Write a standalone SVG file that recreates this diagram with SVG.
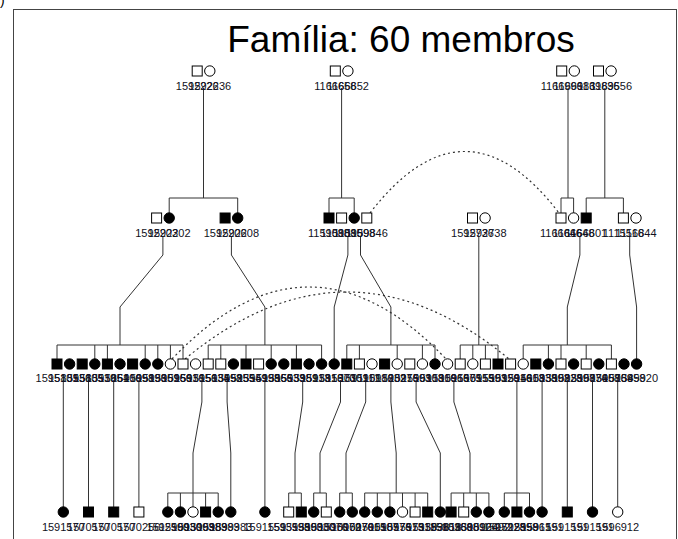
<svg xmlns="http://www.w3.org/2000/svg" width="678" height="539" viewBox="0 0 678 539">
<style>
.ln{fill:none;stroke:#333;stroke-width:1}
.dash{fill:none;stroke:#333;stroke-width:1.2;stroke-dasharray:2 3}
.a{fill:#000;stroke:#000;stroke-width:1}
.u{fill:#fff;stroke:#000;stroke-width:1}
.lb{font-family:"Liberation Sans",Arial,sans-serif;font-size:11px;fill:#111122;text-anchor:middle}
.t{font-family:"Liberation Sans",Arial,sans-serif;font-size:37px;fill:#000;text-anchor:middle}
</style>
<rect x="13.5" y="9.5" width="663" height="540" fill="none" stroke="#444" stroke-width="1"/>
<text x="0" y="5" style="font-family:'Liberation Sans',sans-serif;font-size:14px">)</text>
<text class="t" x="401" y="52">Família: 60 membros</text>
<g id="connectors">
<path class="ln" d="M203.5,88V198M169.2,198H237.7M169.2,198V213M237.7,198V213"/>
<path class="ln" d="M341.6,88V198M329,198H354.2M329,198V213M354.2,198V213"/>
<path class="ln" d="M568,88V198M561,198H573.6M561,198V213M573.6,198V213"/>
<path class="ln" d="M604.8,88V198M586.2,198H623.4M586.2,198V213M623.4,198V213"/>
<path class="ln" d="M162.9,236V255L120,307V345M57,345H183M57,345V359M94.8,345V359M107.4,345V359M145.2,345V359M157.8,345V359M170.4,345V359M183,345V359"/>
<path class="ln" d="M231.4,236V255L264.9,307V345M208.2,345H321.6M208.2,345V359M220.8,345V359M246,345V359M271.2,345V359M296.4,345V359M321.6,345V359"/>
<path class="ln" d="M347.9,236V255L334.2,307V359"/>
<path class="ln" d="M360.5,236V255L390.9,307V345M346.8,345H435M346.8,345V359M359.4,345V359M397.2,345V359M422.4,345V359M435,345V359"/>
<path class="ln" d="M478.8,236V345M460.2,345H498M460.2,345V359M472.8,345V359M485.4,345V359M498,345V359"/>
<path class="ln" d="M579.9,236V255L567.3,307V345M523.2,345H611.4M523.2,345V359M548.4,345V359M561,345V359M586.2,345V359M611.4,345V359"/>
<path class="ln" d="M629.7,236V255L636.6,307V359"/>
<path class="ln" d="M63.3,380V507M88.5,380V507M113.7,380V507M138.9,380V507"/>
<path class="ln" d="M201.9,380V402L193,453V493M167.8,493H218.2M167.8,493V507M180.4,493V507M193,493V507M205.6,493V507M218.2,493V507"/>
<path class="ln" d="M227.1,380V402L230.8,453V507M264.9,380V507"/>
<path class="ln" d="M302.7,380V402L295,453V493M288.7,493H301.3M288.7,493V507M301.3,493V507"/>
<path class="ln" d="M340.5,380V402L320,453V493M313.7,493H326.3M313.7,493V507M326.3,493V507"/>
<path class="ln" d="M365.7,380V402L346,453V493M339.7,493H352.3M339.7,493V507M352.3,493V507"/>
<path class="ln" d="M390.9,380V402L396.2,453V493M364.7,493H427.7M364.7,493V507M377.3,493V507M389.9,493V507M402.5,493V507M415.1,493V507M427.7,493V507"/>
<path class="ln" d="M416.1,380V402L440.3,453V507"/>
<path class="ln" d="M453.9,380V402L470,453V493M451.1,493H488.9M451.1,493V507M463.7,493V507M476.3,493V507M488.9,493V507"/>
<path class="ln" d="M516.9,380V493M504.3,493H529.5M504.3,493V507M516.9,493V507M529.5,493V507"/>
<path class="ln" d="M542.1,380V507M567.3,380V507M592.5,380V507M617.7,380V507"/>
<path class="dash" d="M370,213Q465,90 559,213"/>
<path class="dash" d="M172,359Q309,215 446,359"/>
<path class="dash" d="M185,359Q347,225 509,359"/>
</g>
<g id="g1a_m"><rect class="u" x="192.2" y="66" width="10" height="10"/><text class="lb" x="197.2" y="90">1592226</text></g>
<g id="g1a_f"><circle class="u" cx="209.8" cy="71" r="5.2"/><text class="lb" x="209.8" y="90">1592236</text></g>
<g id="g1b_m"><rect class="u" x="330.3" y="66" width="10" height="10"/><text class="lb" x="335.3" y="90">1166658</text></g>
<g id="g1b_f"><circle class="u" cx="347.9" cy="71" r="5.2"/><text class="lb" x="347.9" y="90">1166652</text></g>
<g id="g1c_m"><rect class="u" x="556.7" y="66" width="10" height="10"/><text class="lb" x="561.7" y="90">1166996</text></g>
<g id="g1c_f"><circle class="u" cx="574.3" cy="71" r="5.2"/><text class="lb" x="574.3" y="90">1166983</text></g>
<g id="g1d_m"><rect class="u" x="593.5" y="66" width="10" height="10"/><text class="lb" x="598.5" y="90">1169836</text></g>
<g id="g1d_f"><circle class="u" cx="611.1" cy="71" r="5.2"/><text class="lb" x="611.1" y="90">1169556</text></g>
<g id="g2_01"><rect class="u" x="151.6" y="213" width="10" height="10"/><text class="lb" x="156.6" y="237">1592203</text></g>
<g id="g2_02"><circle class="a" cx="169.2" cy="218" r="5.2"/><text class="lb" x="169.2" y="237">1592202</text></g>
<g id="g2_03"><rect class="a" x="220.1" y="213" width="10" height="10"/><text class="lb" x="225.1" y="237">1592206</text></g>
<g id="g2_04"><circle class="a" cx="237.7" cy="218" r="5.2"/><text class="lb" x="237.7" y="237">1592208</text></g>
<g id="g2_05"><rect class="a" x="324" y="213" width="10" height="10"/><text class="lb" x="329" y="237">1159088</text></g>
<g id="g2_06"><rect class="u" x="336.6" y="213" width="10" height="10"/><text class="lb" x="341.6" y="237">1159085</text></g>
<g id="g2_07"><circle class="a" cx="354.2" cy="218" r="5.2"/><text class="lb" x="354.2" y="237">1159098</text></g>
<g id="g2_08"><rect class="u" x="361.8" y="213" width="10" height="10"/><text class="lb" x="366.8" y="237">1159846</text></g>
<g id="g2_09"><rect class="u" x="467.5" y="213" width="10" height="10"/><text class="lb" x="472.5" y="237">1592736</text></g>
<g id="g2_10"><circle class="u" cx="485.1" cy="218" r="5.2"/><text class="lb" x="485.1" y="237">1592738</text></g>
<g id="g2_11"><rect class="u" x="556" y="213" width="10" height="10"/><text class="lb" x="561" y="237">1166646</text></g>
<g id="g2_12"><circle class="u" cx="573.6" cy="218" r="5.2"/><text class="lb" x="573.6" y="237">1166648</text></g>
<g id="g2_13"><rect class="a" x="581.2" y="213" width="10" height="10"/><text class="lb" x="586.2" y="237">1166601</text></g>
<g id="g2_14"><rect class="u" x="618.4" y="213" width="10" height="10"/><text class="lb" x="623.4" y="237">1115516</text></g>
<g id="g2_15"><circle class="u" cx="636" cy="218" r="5.2"/><text class="lb" x="636" y="237">1116844</text></g>
<g id="g3_00"><rect class="a" x="52" y="359" width="10" height="10"/><text class="lb" x="57" y="382">1595101</text></g>
<g id="g3_01"><circle class="a" cx="69.6" cy="364" r="5.2"/><text class="lb" x="69.6" y="382">1583536</text></g>
<g id="g3_02"><rect class="a" x="77.2" y="359" width="10" height="10"/><text class="lb" x="82.2" y="382">1595105</text></g>
<g id="g3_03"><circle class="a" cx="94.8" cy="364" r="5.2"/><text class="lb" x="94.8" y="382">1583539</text></g>
<g id="g3_04"><rect class="a" x="102.4" y="359" width="10" height="10"/><text class="lb" x="107.4" y="382">1591051</text></g>
<g id="g3_05"><circle class="a" cx="120" cy="364" r="5.2"/><text class="lb" x="120" y="382">1586406</text></g>
<g id="g3_06"><rect class="a" x="127.6" y="359" width="10" height="10"/><text class="lb" x="132.6" y="382">1591098</text></g>
<g id="g3_07"><circle class="a" cx="145.2" cy="364" r="5.2"/><text class="lb" x="145.2" y="382">1595196</text></g>
<g id="g3_08"><circle class="a" cx="157.8" cy="364" r="5.2"/><text class="lb" x="157.8" y="382">1593351</text></g>
<g id="g3_09"><circle class="u" cx="170.4" cy="364" r="5.2"/><text class="lb" x="170.4" y="382">1590966</text></g>
<g id="g3_10"><rect class="u" x="178" y="359" width="10" height="10"/><text class="lb" x="183" y="382">1595916</text></g>
<g id="g3_11"><circle class="u" cx="195.6" cy="364" r="5.2"/><text class="lb" x="195.6" y="382">1593156</text></g>
<g id="g3_12"><rect class="u" x="203.2" y="359" width="10" height="10"/><text class="lb" x="208.2" y="382">1595134</text></g>
<g id="g3_13"><rect class="u" x="215.8" y="359" width="10" height="10"/><text class="lb" x="220.8" y="382">1593598</text></g>
<g id="g3_14"><circle class="a" cx="233.4" cy="364" r="5.2"/><text class="lb" x="233.4" y="382">1595255</text></g>
<g id="g3_15"><rect class="a" x="241" y="359" width="10" height="10"/><text class="lb" x="246" y="382">1593549</text></g>
<g id="g3_16"><rect class="u" x="253.6" y="359" width="10" height="10"/><text class="lb" x="258.6" y="382">1595198</text></g>
<g id="g3_17"><circle class="a" cx="271.2" cy="364" r="5.2"/><text class="lb" x="271.2" y="382">1593566</text></g>
<g id="g3_18"><circle class="a" cx="283.8" cy="364" r="5.2"/><text class="lb" x="283.8" y="382">1595533</text></g>
<g id="g3_19"><rect class="a" x="291.4" y="359" width="10" height="10"/><text class="lb" x="296.4" y="382">1593981</text></g>
<g id="g3_20"><circle class="a" cx="309" cy="364" r="5.2"/><text class="lb" x="309" y="382">1595913</text></g>
<g id="g3_21"><circle class="a" cx="321.6" cy="364" r="5.2"/><text class="lb" x="321.6" y="382">1593816</text></g>
<g id="g3_22"><circle class="a" cx="334.2" cy="364" r="5.2"/><text class="lb" x="334.2" y="382">1591370</text></g>
<g id="g3_23"><rect class="a" x="341.8" y="359" width="10" height="10"/><text class="lb" x="346.8" y="382">1590301</text></g>
<g id="g3_24"><rect class="u" x="354.4" y="359" width="10" height="10"/><text class="lb" x="359.4" y="382">1591111</text></g>
<g id="g3_25"><circle class="u" cx="372" cy="364" r="5.2"/><text class="lb" x="372" y="382">1590186</text></g>
<g id="g3_26"><rect class="a" x="379.6" y="359" width="10" height="10"/><text class="lb" x="384.6" y="382">1591232</text></g>
<g id="g3_27"><circle class="u" cx="397.2" cy="364" r="5.2"/><text class="lb" x="397.2" y="382">1590276</text></g>
<g id="g3_28"><rect class="u" x="404.8" y="359" width="10" height="10"/><text class="lb" x="409.8" y="382">1591593</text></g>
<g id="g3_29"><circle class="u" cx="422.4" cy="364" r="5.2"/><text class="lb" x="422.4" y="382">1590108</text></g>
<g id="g3_30"><circle class="a" cx="435" cy="364" r="5.2"/><text class="lb" x="435" y="382">1591316</text></g>
<g id="g3_31"><circle class="u" cx="447.6" cy="364" r="5.2"/><text class="lb" x="447.6" y="382">1590966</text></g>
<g id="g3_32"><rect class="u" x="455.2" y="359" width="10" height="10"/><text class="lb" x="460.2" y="382">1591575</text></g>
<g id="g3_33"><circle class="u" cx="472.8" cy="364" r="5.2"/><text class="lb" x="472.8" y="382">1590155</text></g>
<g id="g3_34"><rect class="u" x="480.4" y="359" width="10" height="10"/><text class="lb" x="485.4" y="382">1591593</text></g>
<g id="g3_35"><rect class="a" x="493" y="359" width="10" height="10"/><text class="lb" x="498" y="382">1590126</text></g>
<g id="g3_36"><rect class="u" x="505.6" y="359" width="10" height="10"/><text class="lb" x="510.6" y="382">1595916</text></g>
<g id="g3_37"><circle class="u" cx="523.2" cy="364" r="5.2"/><text class="lb" x="523.2" y="382">1594613</text></g>
<g id="g3_38"><rect class="a" x="530.8" y="359" width="10" height="10"/><text class="lb" x="535.8" y="382">1590838</text></g>
<g id="g3_39"><circle class="a" cx="548.4" cy="364" r="5.2"/><text class="lb" x="548.4" y="382">1593592</text></g>
<g id="g3_40"><rect class="u" x="556" y="359" width="10" height="10"/><text class="lb" x="561" y="382">1590828</text></g>
<g id="g3_41"><circle class="a" cx="573.6" cy="364" r="5.2"/><text class="lb" x="573.6" y="382">1593597</text></g>
<g id="g3_42"><rect class="u" x="581.2" y="359" width="10" height="10"/><text class="lb" x="586.2" y="382">1590876</text></g>
<g id="g3_43"><circle class="a" cx="598.8" cy="364" r="5.2"/><text class="lb" x="598.8" y="382">1593458</text></g>
<g id="g3_44"><rect class="u" x="606.4" y="359" width="10" height="10"/><text class="lb" x="611.4" y="382">1590769</text></g>
<g id="g3_45"><circle class="a" cx="624" cy="364" r="5.2"/><text class="lb" x="624" y="382">1593458</text></g>
<g id="g3_46"><circle class="a" cx="636.6" cy="364" r="5.2"/><text class="lb" x="636.6" y="382">1589920</text></g>
<g id="g4_01"><circle class="a" cx="63.3" cy="512" r="5.2"/><text class="lb" x="63.3" y="531">1591570</text></g>
<g id="g4_02"><rect class="a" x="83.5" y="507" width="10" height="10"/><text class="lb" x="88.5" y="531">1570570</text></g>
<g id="g4_03"><rect class="a" x="108.7" y="507" width="10" height="10"/><text class="lb" x="113.7" y="531">1570570</text></g>
<g id="g4_04"><rect class="u" x="133.9" y="507" width="10" height="10"/><text class="lb" x="138.9" y="531">1570256</text></g>
<g id="g4_05"><circle class="a" cx="167.8" cy="512" r="5.2"/><text class="lb" x="167.8" y="531">1592590</text></g>
<g id="g4_06"><circle class="a" cx="180.4" cy="512" r="5.2"/><text class="lb" x="180.4" y="531">1590930</text></g>
<g id="g4_07"><circle class="u" cx="193" cy="512" r="5.2"/><text class="lb" x="193" y="531">1593093</text></g>
<g id="g4_08"><rect class="a" x="200.6" y="507" width="10" height="10"/><text class="lb" x="205.6" y="531">1590983</text></g>
<g id="g4_09"><circle class="a" cx="218.2" cy="512" r="5.2"/><text class="lb" x="218.2" y="531">1598983</text></g>
<g id="g4_10"><circle class="a" cx="230.8" cy="512" r="5.2"/><text class="lb" x="230.8" y="531">1599983</text></g>
<g id="g4_11"><circle class="a" cx="264.9" cy="512" r="5.2"/><text class="lb" x="264.9" y="531">1591559</text></g>
<g id="g4_12"><rect class="u" x="283.7" y="507" width="10" height="10"/><text class="lb" x="288.7" y="531">1593598</text></g>
<g id="g4_13"><rect class="a" x="296.3" y="507" width="10" height="10"/><text class="lb" x="301.3" y="531">1593593</text></g>
<g id="g4_14"><circle class="a" cx="313.7" cy="512" r="5.2"/><text class="lb" x="313.7" y="531">1590030</text></g>
<g id="g4_15"><rect class="u" x="321.3" y="507" width="10" height="10"/><text class="lb" x="326.3" y="531">1590076</text></g>
<g id="g4_16"><circle class="a" cx="339.7" cy="512" r="5.2"/><text class="lb" x="339.7" y="531">1590072</text></g>
<g id="g4_17"><circle class="a" cx="352.3" cy="512" r="5.2"/><text class="lb" x="352.3" y="531">1590076</text></g>
<g id="g4_18"><circle class="a" cx="364.7" cy="512" r="5.2"/><text class="lb" x="364.7" y="531">1597015</text></g>
<g id="g4_19"><circle class="a" cx="377.3" cy="512" r="5.2"/><text class="lb" x="377.3" y="531">1590187</text></g>
<g id="g4_20"><circle class="a" cx="389.9" cy="512" r="5.2"/><text class="lb" x="389.9" y="531">1590576</text></g>
<g id="g4_21"><circle class="u" cx="402.5" cy="512" r="5.2"/><text class="lb" x="402.5" y="531">1597515</text></g>
<g id="g4_22"><rect class="u" x="410.1" y="507" width="10" height="10"/><text class="lb" x="415.1" y="531">1597318</text></g>
<g id="g4_23"><rect class="a" x="422.7" y="507" width="10" height="10"/><text class="lb" x="427.7" y="531">1593598</text></g>
<g id="g4_24"><circle class="a" cx="440.3" cy="512" r="5.2"/><text class="lb" x="440.3" y="531">1593618</text></g>
<g id="g4_25"><rect class="a" x="446.1" y="507" width="10" height="10"/><text class="lb" x="451.1" y="531">1590368</text></g>
<g id="g4_26"><rect class="u" x="458.7" y="507" width="10" height="10"/><text class="lb" x="463.7" y="531">1593089</text></g>
<g id="g4_27"><circle class="a" cx="476.3" cy="512" r="5.2"/><text class="lb" x="476.3" y="531">1590126</text></g>
<g id="g4_28"><circle class="a" cx="488.9" cy="512" r="5.2"/><text class="lb" x="488.9" y="531">1596492</text></g>
<g id="g4_29"><circle class="a" cx="504.3" cy="512" r="5.2"/><text class="lb" x="504.3" y="531">1597228</text></g>
<g id="g4_30"><rect class="a" x="511.9" y="507" width="10" height="10"/><text class="lb" x="516.9" y="531">1592598</text></g>
<g id="g4_31"><circle class="a" cx="529.5" cy="512" r="5.2"/><text class="lb" x="529.5" y="531">1595961</text></g>
<g id="g4_32"><circle class="a" cx="542.1" cy="512" r="5.2"/><text class="lb" x="542.1" y="531">1591591</text></g>
<g id="g4_33"><rect class="a" x="562.3" y="507" width="10" height="10"/><text class="lb" x="567.3" y="531">1591591</text></g>
<g id="g4_34"><circle class="a" cx="592.5" cy="512" r="5.2"/><text class="lb" x="592.5" y="531">1591591</text></g>
<g id="g4_35"><circle class="u" cx="617.7" cy="512" r="5.2"/><text class="lb" x="617.7" y="531">1596912</text></g>
</svg>
